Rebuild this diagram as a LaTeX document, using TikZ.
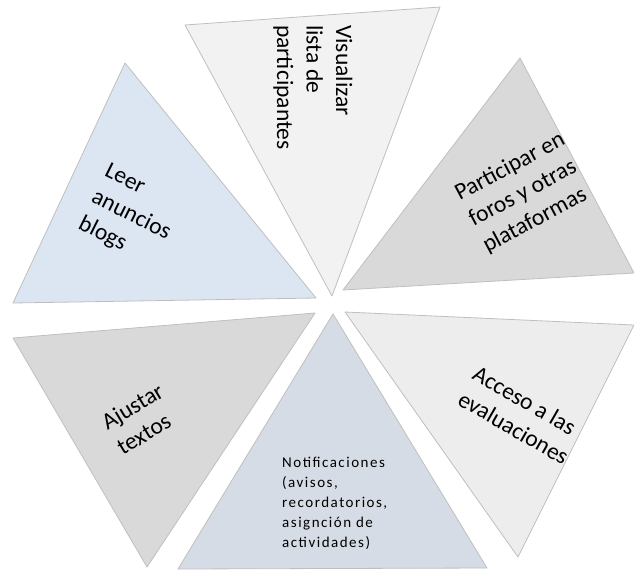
\documentclass[tikz,border=0pt]{standalone}
\usepackage{fontspec}
\setmainfont{Carlito}
\newfontfamily\spacedfont[LetterSpace=10]{Carlito}
\usepackage{xcolor}
\definecolor{paleGray}{HTML}{F2F2F2}
\definecolor{paleBlue}{HTML}{DCE6F2}
\definecolor{midGray}{HTML}{D9D9D9}
\definecolor{slateBlue}{HTML}{D6DCE5}
\definecolor{softGray}{HTML}{EDEDED}
\definecolor{edgeGray}{HTML}{BFBFBF}
\newcommand{\rtPetal}[4]{\filldraw[petal, fill=#1] #2 -- #3 -- #4 -- cycle;}
\tikzset{
  petal/.style={
    draw=edgeGray,
    line width=0.8pt,
    line join=round
  },
  petalText/.style={
    font=\fontsize{23.5}{29.5}\selectfont,
    align=left,
    inner sep=0pt
  }
}

\begin{document}
\begin{tikzpicture}[
    x=1pt, y=-1pt
  ]
  \useasboundingbox (0,0) rectangle (634,571);

  \rtPetal{paleGray}{(185,25)}{(440,7)}{(332,296)}
  \rtPetal{paleBlue}{(125,63)}{(13,303)}{(316,298)}
  \rtPetal{midGray}{(520,58)}{(343,290)}{(634,273)}
  \rtPetal{midGray}{(315,313)}{(13,338)}{(147,567)}
  \rtPetal{slateBlue}{(333,314)}{(178,569)}{(487,568)}
  \rtPetal{softGray}{(345,312)}{(634,325)}{(518,557)}

  \node[petalText, rotate=-90, anchor=west] (lista) at (313,25)
    {Visualizar\\lista de\\participantes};
  \node[petalText, rotate=-26.5] (anuncios) at (131,216)
    {Leer\\anuncios\\blogs};
  \node[petalText, rotate=28] (foros) at (524,193)
    {Participar en\\foros y otras\\plataformas};
  \node[petalText, rotate=31] (ajustar) at (140,419)
    {Ajustar\\textos};
  \node[petalText, rotate=-30] (acceso) at (521,415)
    {Acceso a las\\evaluaciones};
  \node[align=left, inner sep=0pt, anchor=west,
        font=\spacedfont\fontsize{15}{20}\selectfont] (avisos) at (282,503)
    {Notificaciones\\(avisos,\\recordatorios,\\asignción de\\actividades)};
\end{tikzpicture}
\end{document}
